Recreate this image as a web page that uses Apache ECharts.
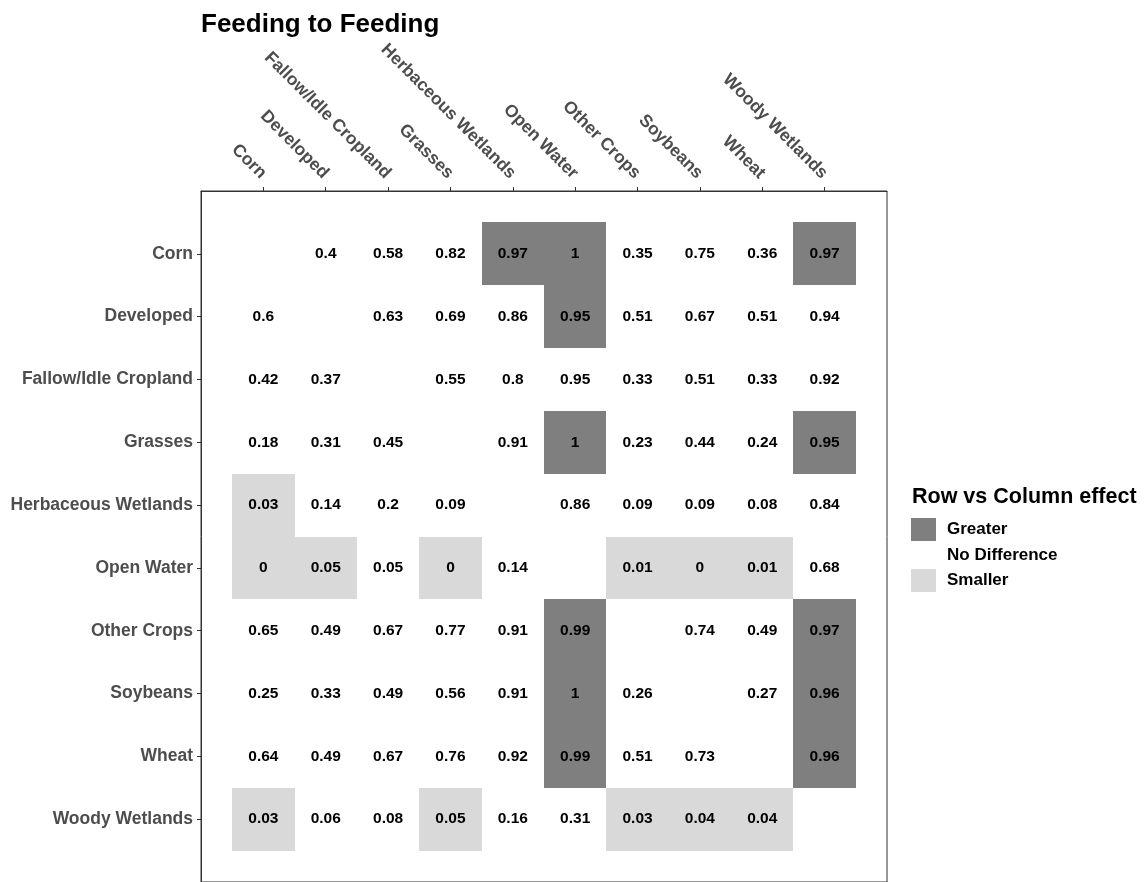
<!DOCTYPE html>
<html>
<head>
<meta charset="utf-8">
<script src="https://cdn.jsdelivr.net/npm/echarts@6/dist/echarts.min.js"></script>
<style>
  html, body { margin: 0; padding: 0; background: #ffffff; }
  #chart { width: 1148px; height: 882px; }
</style>
</head>
<body>
<div id="chart"></div>
<script>
// Land-cover classes, used for both rows and columns
const landCovers = ['Corn', 'Developed', 'Fallow/Idle Cropland', 'Grasses', 'Herbaceous Wetlands',
  'Open Water', 'Other Crops', 'Soybeans', 'Wheat', 'Woody Wetlands'];

// Row-vs-column proportions; null on the diagonal
const proportions = [
  [null, 0.4, 0.58, 0.82, 0.97, 1, 0.35, 0.75, 0.36, 0.97],
  [0.6, null, 0.63, 0.69, 0.86, 0.95, 0.51, 0.67, 0.51, 0.94],
  [0.42, 0.37, null, 0.55, 0.8, 0.95, 0.33, 0.51, 0.33, 0.92],
  [0.18, 0.31, 0.45, null, 0.91, 1, 0.23, 0.44, 0.24, 0.95],
  [0.03, 0.14, 0.2, 0.09, null, 0.86, 0.09, 0.09, 0.08, 0.84],
  [0, 0.05, 0.05, 0, 0.14, null, 0.01, 0, 0.01, 0.68],
  [0.65, 0.49, 0.67, 0.77, 0.91, 0.99, null, 0.74, 0.49, 0.97],
  [0.25, 0.33, 0.49, 0.56, 0.91, 1, 0.26, null, 0.27, 0.96],
  [0.64, 0.49, 0.67, 0.76, 0.92, 0.99, 0.51, 0.73, null, 0.96],
  [0.03, 0.06, 0.08, 0.05, 0.16, 0.31, 0.03, 0.04, 0.04, null]
];

// Effect class per cell: G = greater, N = no difference, S = smaller
const effects = [
  'NNNNGGNNNG',
  'NNNNNGNNNN',
  'NNNNNNNNNN',
  'NNNNNGNNNG',
  'SNNNNNNNNN',
  'SSNSNNSSSN',
  'NNNNNGNNNG',
  'NNNNNGNNNG',
  'NNNNNGNNNG',
  'SNNSNNSSSN'
];

const effectLevels = [
  { key: 'G', name: 'Greater', color: '#7f7f7f' },
  { key: 'N', name: 'No Difference', color: '#ffffff' },
  { key: 'S', name: 'Smaller', color: '#d9d9d9' }
];

const FONT = '"Liberation Sans", Arial, Helvetica, sans-serif';
const positions = landCovers.map((_, i) => i + 1);

function cellsFor(key) {
  const out = [];
  proportions.forEach((row, r) => {
    row.forEach((v, c) => {
      if (v !== null && effects[r][c] === key) out.push([c + 1, r + 1, v]);
    });
  });
  return out;
}

function renderTile(params, api) {
  const x = api.value(0);
  const y = api.value(1);
  const topLeft = api.coord([x - 0.5, y - 0.5]);
  const bottomRight = api.coord([x + 0.5, y + 0.5]);
  const center = api.coord([x, y]);
  // snap tile edges to whole pixels so neighbouring tiles meet without seams
  const x0 = Math.round(topLeft[0]), x1 = Math.round(bottomRight[0]);
  const y0 = Math.round(topLeft[1]), y1 = Math.round(bottomRight[1]);
  return {
    type: 'group',
    children: [
      {
        type: 'rect',
        shape: { x: x0, y: y0, width: x1 - x0, height: y1 - y0 },
        style: { fill: api.visual('color') }
      },
      {
        type: 'text',
        style: {
          text: String(api.value(2)),
          x: center[0], y: center[1],
          align: 'center', verticalAlign: 'middle',
          font: 'bold 15.5px ' + FONT,
          fill: '#000000'
        }
      }
    ]
  };
}

const axisLabelStyle = {
  color: '#4d4d4d', fontWeight: 'bold', fontSize: 17.5, fontFamily: FONT
};

const chart = echarts.init(document.getElementById('chart'), null, { renderer: 'canvas' });
chart.setOption({
  animation: false,
  backgroundColor: '#ffffff',
  title: [
    {
      text: 'Feeding to Feeding', left: 196, top: 7,
      textStyle: { fontFamily: FONT, fontWeight: 'bold', fontSize: 26, color: '#000000' }
    },
    {
      text: 'Row vs Column effect', left: 907, top: 481,
      textStyle: { fontFamily: FONT, fontWeight: 'bold', fontSize: 21.5, color: '#000000' }
    }
  ],
  legend: {
    orient: 'vertical', left: 906, top: 513,
    itemWidth: 25, itemHeight: 23, itemGap: 2.5,
    icon: 'rect',
    selectedMode: false,
    data: effectLevels.map(l => l.name),
    textStyle: { fontFamily: FONT, fontWeight: 'bold', fontSize: 17, color: '#000000', padding: [0, 0, 0, 6] }
  },
  grid: {
    left: 201, top: 191, width: 686, height: 693,
    show: true, borderColor: '#333333', borderWidth: 1, backgroundColor: 'transparent'
  },
  xAxis: {
    type: 'value', position: 'top', min: 0, max: 11, interval: 1,
    splitLine: { show: false },
    axisLine: { show: true, onZero: false, lineStyle: { color: '#333333', width: 1 } },
    axisTick: { show: true, customValues: positions, length: 4, lineStyle: { color: '#333333' } },
    axisLabel: Object.assign({
      customValues: positions, rotate: 45, margin: 15,
      formatter: v => landCovers[Math.round(v) - 1] || ''
    }, axisLabelStyle)
  },
  yAxis: {
    type: 'value', inverse: true, min: 0, max: 11, interval: 1,
    splitLine: { show: false },
    axisLine: { show: true, onZero: false, lineStyle: { color: '#333333', width: 1 } },
    axisTick: { show: true, customValues: positions, length: 4, lineStyle: { color: '#333333' } },
    axisLabel: Object.assign({
      customValues: positions, margin: 8,
      formatter: v => landCovers[Math.round(v) - 1] || ''
    }, axisLabelStyle)
  },
  series: effectLevels.map(level => ({
    type: 'custom',
    name: level.name,
    coordinateSystem: 'cartesian2d',
    itemStyle: { color: level.color },
    encode: { x: 0, y: 1 },
    renderItem: renderTile,
    data: cellsFor(level.key)
  }))
});
</script>
</body>
</html>
